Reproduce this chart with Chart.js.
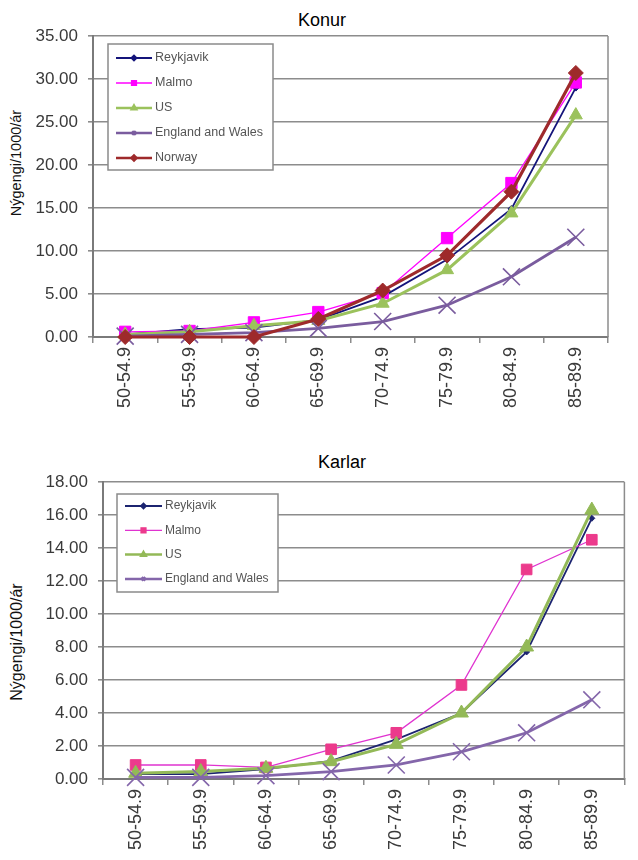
<!DOCTYPE html>
<html>
<head>
<meta charset="utf-8">
<script src="https://cdn.jsdelivr.net/npm/chart.js@4.4.1/dist/chart.umd.min.js"></script>
<style>
  html, body { margin: 0; padding: 0; background: #fff; }
  body { width: 638px; height: 860px; position: relative; overflow: hidden; font-family: "Liberation Sans", Arial, sans-serif; }
  .box { position: absolute; left: 0; width: 638px; }
  .title { position: absolute; font-size: 18px; line-height: 18px; color: #000; transform: translateX(-50%); white-space: nowrap; }
  .ytitle { position: absolute; color: #111; white-space: nowrap; transform: translate(-50%, -50%) rotate(-90deg); }
</style>
</head>
<body>
<div class="title" style="left:322px; top:11px;">Konur</div>
<div class="ytitle" style="left:16px; top:163px; font-size:14.5px;">Nýgengi/1000/ár</div>
<div class="box" style="top:0; height:425px;"><canvas id="konur"></canvas></div>

<div class="title" style="left:342px; top:453px;">Karlar</div>
<div class="ytitle" style="left:17px; top:642px; font-size:16px;">Nýgengi/1000/ár</div>
<div class="box" style="top:430px; height:430px;"><canvas id="karlar"></canvas></div>

<script>
// Age groups (shared by both panels)
const ageGroups = ['50-54.9', '55-59.9', '60-64.9', '65-69.9', '70-74.9', '75-79.9', '80-84.9', '85-89.9'];

// Women – incidence per 1000 per year
const womenReykjavik = [0.3, 0.9, 1.1, 2.0, 4.7, 9.0, 14.9, 29.0];
const womenMalmo     = [0.6, 0.7, 1.7, 2.9, 5.1, 11.5, 17.9, 29.6];
const womenUS        = [0.3, 0.6, 1.3, 1.9, 3.9, 7.8, 14.4, 25.8];
const womenEngWales  = [0.1, 0.3, 0.5, 1.0, 1.8, 3.7, 7.0, 11.6];
const womenNorway    = [0.0, 0.0, 0.0, 2.1, 5.4, 9.5, 16.9, 30.7];

// Men – incidence per 1000 per year
const menReykjavik = [0.3, 0.3, 0.6, 1.1, 2.4, 4.0, 7.7, 15.8];
const menMalmo     = [0.85, 0.85, 0.7, 1.8, 2.8, 5.7, 12.7, 14.5];
const menUS        = [0.35, 0.45, 0.65, 1.05, 2.1, 4.0, 8.0, 16.3];
const menEngWales  = [0.1, 0.1, 0.2, 0.45, 0.85, 1.65, 2.8, 4.8];

const FONT = '"Liberation Sans", Arial, sans-serif';
const GRID = '#8c8c8c';

// Boxed legend drawn inside the plot area, plus the right-hand frame line
const insetLegend = {
  id: 'insetLegend',
  afterDraw(chart, args, o) {
    const ctx = chart.ctx, a = chart.chartArea;
    ctx.save();
    // right frame of the plot area
    ctx.strokeStyle = GRID;
    ctx.lineWidth = 1.5;
    ctx.beginPath();
    ctx.moveTo(a.right, a.top);
    ctx.lineTo(a.right, a.bottom);
    ctx.stroke();

    const x = a.left + o.dx, y = a.top + o.dy;
    ctx.fillStyle = '#fff';
    ctx.fillRect(x, y, o.width, o.height);
    ctx.strokeStyle = '#8a8a8a';
    ctx.lineWidth = 1.5;
    ctx.strokeRect(x, y, o.width, o.height);

    ctx.font = o.fontSize + 'px ' + FONT;
    ctx.textBaseline = 'middle';
    ctx.textAlign = 'left';
    chart.data.datasets.forEach((ds, i) => {
      const cy = y + o.firstRow + i * o.rowGap;
      const x0 = x + o.lineStart, x1 = x0 + o.lineLen;
      ctx.strokeStyle = ds.borderColor;
      ctx.lineWidth = Math.min(ds.borderWidth, 2.5);
      ctx.beginPath();
      ctx.moveTo(x0, cy);
      ctx.lineTo(x1, cy);
      ctx.stroke();
      ctx.fillStyle = ds.pointBackgroundColor;
      ctx.strokeStyle = ds.pointBorderColor;
      Chart.helpers.drawPoint(ctx, {
        pointStyle: ds.pointStyle,
        radius: ds.pointStyle === 'rect' ? o.markerRadius + 1 : o.markerRadius,
        borderWidth: 1,
        rotation: 0
      }, (x0 + x1) / 2, cy);
      ctx.fillStyle = '#555';
      ctx.fillText(ds.label, x1 + 3, cy);
    });
    ctx.restore();
  }
};

function series(label, data, color, width, style, radius, pointColor) {
  return {
    label, data,
    borderColor: color,
    borderWidth: width,
    pointStyle: style,
    pointRadius: radius,
    pointHoverRadius: radius,
    pointBackgroundColor: pointColor || color,
    pointBorderColor: pointColor || color,
    pointBorderWidth: style === 'crossRot' ? 1.6 : 1,
    tension: 0,
    clip: false
  };
}

function makeChart(id, datasets, yMax, yStep, layout, legendOpts) {
  return new Chart(document.getElementById(id), {
    type: 'line',
    data: { labels: ageGroups, datasets },
    plugins: [insetLegend],
    options: {
      responsive: true,
      maintainAspectRatio: false,
      animation: false,
      events: [],
      layout: { padding: layout.padding },
      plugins: {
        legend: { display: false },
        title: { display: false },
        tooltip: { enabled: false },
        insetLegend: legendOpts
      },
      scales: {
        x: {
          type: 'category',
          offset: true,
          grid: { offset: true, drawOnChartArea: false, drawTicks: true, tickLength: 6, color: GRID, lineWidth: 1.5 },
          border: { color: '#7a7a7a', width: 2 },
          ticks: {
            minRotation: 90, maxRotation: 90, autoSkip: false, padding: 4,
            color: '#3a3a3a', font: { family: FONT, size: 18 }
          },
          afterFit(s) { s.height = layout.xHeight; }
        },
        y: {
          min: 0, max: yMax,
          grid: { color: GRID, lineWidth: 1.6, tickLength: 5 },
          border: { color: '#7a7a7a', width: 2 },
          ticks: {
            stepSize: yStep, padding: 10,
            color: '#3a3a3a', font: { family: FONT, size: 17 },
            callback: v => Number(v).toFixed(2)
          },
          afterFit(s) { s.width = layout.yWidth; }
        }
      }
    }
  });
}

const womenSets = [
  series('Reykjavik', womenReykjavik, '#14147a', 1.8, 'rectRot', 3.5),
  series('Malmo', womenMalmo, '#ff00ff', 1.3, 'rect', 8),
  series('US', womenUS, '#9bc25c', 3, 'triangle', 7.5),
  series('England and Wales', womenEngWales, '#7a5c9e', 2.8, 'crossRot', 12),
  series('Norway', womenNorway, '#9e2a2b', 3.2, 'rectRot', 7.5)
];
womenSets.forEach((d, i) => { d.order = womenSets.length - i; });

const menSets = [
  series('Reykjavik', menReykjavik, '#1c2470', 1.8, 'rectRot', 3),
  series('Malmo', menMalmo, '#e033d0', 1.3, 'rect', 7.5, '#ec3a8c'),
  series('US', menUS, '#93b957', 3, 'triangle', 8),
  series('England and Wales', menEngWales, '#8466aa', 2.8, 'crossRot', 12)
];
menSets.forEach((d, i) => { d.order = menSets.length - i; });

makeChart('konur', womenSets, 35, 5,
  { padding: { top: 36, left: 0, right: 30, bottom: 0 }, xHeight: 88, yWidth: 93 },
  { dx: 15, dy: 8, width: 165, height: 126, firstRow: 14, rowGap: 25,
    lineStart: 8, lineLen: 36, markerRadius: 2.5, fontSize: 12.5 });

makeChart('karlar', menSets, 18, 2,
  { padding: { top: 52, left: 0, right: 1, bottom: 0 }, xHeight: 81, yWidth: 103 },
  { dx: 14, dy: 12, width: 161, height: 98, firstRow: 12, rowGap: 24.3,
    lineStart: 8, lineLen: 37, markerRadius: 2.5, fontSize: 12 });
</script>
</body>
</html>
